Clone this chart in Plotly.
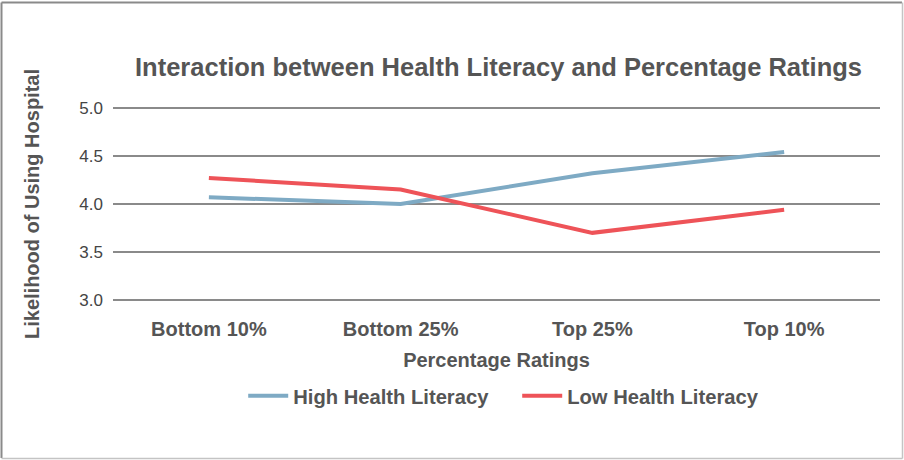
import plotly.graph_objects as go

categories = ["Bottom 10%", "Bottom 25%", "Top 25%", "Top 10%"]
high_literacy = [4.07, 4.00, 4.32, 4.54]
low_literacy = [4.27, 4.15, 3.70, 3.94]

BLUE = "#7eaac4"
RED = "#ee5358"
TEXT = "#555555"
FONT = "Liberation Sans, Arial, sans-serif"

fig = go.Figure()

fig.add_trace(go.Scatter(
    x=categories, y=high_literacy,
    mode="lines", name="<b>High Health Literacy</b>",
    line=dict(color=BLUE, width=4)
))
fig.add_trace(go.Scatter(
    x=categories, y=low_literacy,
    mode="lines", name="<b>Low Health Literacy</b>",
    line=dict(color=RED, width=4)
))

# plot area 113..880 px wide; y range padded so the 3.0 and 5.0 grid lines
# sit at 300 and 108 px and still get drawn
L, R, T, B = 113, 24, 103, 155
pw, ph = 904 - L - R, 460 - T - B


def px(x):
    return (x - L) / pw


def py(y):
    return (460 - B - y) / ph


# border round the whole picture
border = [
    (1.5, 2.5, 902, 2.5, "#8a8a8a", 2),
    (1.5, 2.5, 1.5, 458, "#8a8a8a", 2),
    (902.5, 2.5, 902.5, 458.5, "#c4c4c4", 1.5),
    (1.5, 458.5, 902.5, 458.5, "#c4c4c4", 1.5),
]
for x0, y0, x1, y1, c, w in border:
    fig.add_shape(type="line", xref="paper", yref="paper",
                  x0=px(x0), y0=py(y0), x1=px(x1), y1=py(y1),
                  line=dict(color=c, width=w))

fig.update_layout(
    width=904, height=460,
    margin=dict(l=L, r=R, t=T, b=B, pad=0),
    paper_bgcolor="white", plot_bgcolor="white",
    font=dict(family=FONT, color=TEXT),
    title=dict(
        text="<b>Interaction between Health Literacy and Percentage Ratings</b>",
        font=dict(size=25.5, color=TEXT),
        x=px(498.5), xref="paper", xanchor="center",
        y=1 - 67 / 460, yref="container", yanchor="middle"
    ),
    showlegend=True,
    legend=dict(
        orientation="h", x=0.527, xanchor="center",
        y=py(396), yanchor="middle",
        font=dict(size=20.2, color=TEXT),
        itemwidth=40, entrywidthmode="pixels", entrywidth=219
    ),
)

fig.update_xaxes(
    type="category", range=[-0.5, 3.5],
    showgrid=False, zeroline=False, showline=False, ticks="",
    tickfont=dict(size=20, color=TEXT), ticklabelstandoff=10,
    title=dict(text="<b>Percentage Ratings</b>", font=dict(size=20, color=TEXT), standoff=13),
    tickprefix="<b>", ticksuffix="</b>"
)
fig.update_yaxes(
    range=[2.95, 5.05], tickvals=[3.0, 3.5, 4.0, 4.5, 5.0], tickformat=".1f",
    showgrid=True, gridcolor="#8a8a8a", gridwidth=1.8,
    zeroline=False, showline=False, ticks="",
    tickfont=dict(size=17, color="#444444"), ticklabelstandoff=9,
    title=dict(text="<b>Likelihood of Using Hospital</b>", font=dict(size=20, color=TEXT), standoff=34)
)

fig.write_html("out.html", config={"displayModeBar": False},
               post_script="document.body.style.margin='0';")
